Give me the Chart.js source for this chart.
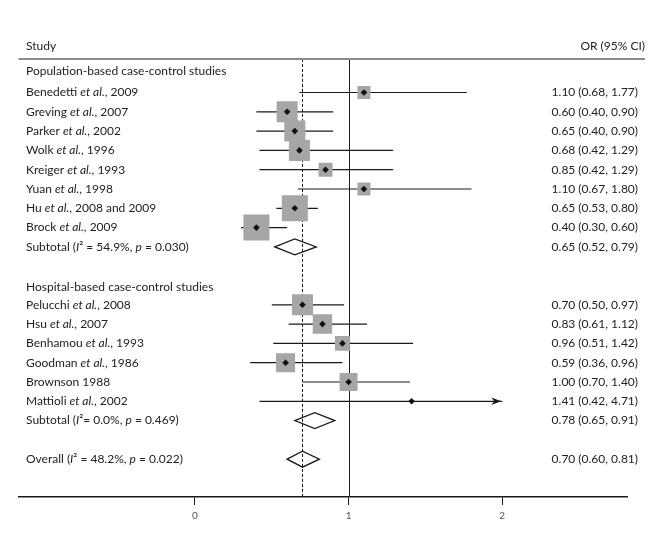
<!DOCTYPE html>
<html>
<head>
<meta charset="utf-8">
<script src="https://cdn.jsdelivr.net/npm/chart.js@4/dist/chart.umd.min.js"></script>
<style>
  html, body { margin: 0; padding: 0; background: #fff; }
  #wrap { width: 648px; height: 557px; position: relative; }
</style>
</head>
<body>
<div id="wrap"><canvas id="forest"></canvas></div>
<script>
// ================= DATA =================
const studyLabels = [
    "Benedetti *et al.*, 2009",
    "Greving *et al.*, 2007",
    "Parker *et al.*, 2002",
    "Wolk *et al.*, 1996",
    "Kreiger *et al.*, 1993",
    "Yuan *et al.*, 1998",
    "Hu *et al.*, 2008 and 2009",
    "Brock *et al.*, 2009",
    "Pelucchi *et al.*, 2008",
    "Hsu *et al.*, 2007",
    "Benhamou *et al.*, 1993",
    "Goodman *et al.*, 1986",
    "Brownson 1988",
    "Mattioli *et al.*, 2002"
];
const studyRows = [1, 2, 3, 4, 5, 6, 7, 8, 12, 13, 14, 15, 16, 17];
const oddsRatios = [1.10, 0.60, 0.65, 0.68, 0.85, 1.10, 0.65, 0.40, 0.70, 0.83, 0.96, 0.59, 1.00, 1.41];
const ciLower = [0.68, 0.40, 0.40, 0.42, 0.42, 0.67, 0.53, 0.30, 0.50, 0.61, 0.51, 0.36, 0.70, 0.42];
const ciUpper = [1.77, 0.90, 0.90, 1.29, 1.29, 1.80, 0.80, 0.60, 0.97, 1.12, 1.42, 0.96, 1.40, 4.71];
// study weights (%)
const studyWeights = [3.4, 8.9, 8.9, 8.9, 3.9, 3.4, 13.6, 13.6, 8.9, 7.6, 4.5, 7.3, 6.5, 0.2];

const summaryLabels = [
    "Subtotal (*I*² = 54.9%, *p* = 0.030)",
    "Subtotal (*I*²= 0.0%, *p* = 0.469)",
    "Overall (*I*² = 48.2%, *p* = 0.022)"
];
const summaryRows = [9, 18, 20];
const summaryOR = [0.65, 0.78, 0.70];
const summaryLower = [0.52, 0.65, 0.60];
const summaryUpper = [0.79, 0.91, 0.81];

const groupLabels = ["Population-based case-control studies", "Hospital-based case-control studies"];
const groupRows = [-0.1, 11.1];

const tickValues = [0, 1, 2];
const axisClip = 2;      // CIs running past this end in an arrow
const headerRow = -1.41;
const ruleRow = -0.74;

// ================= HELPERS =================
const FONT = "Lato, 'Open Sans', sans-serif";
const TEXT_COLOR = "#222";

function fmt(v) { return v.toFixed(2); }
function ciText(or, lo, hi) { return `${fmt(or)} (${fmt(lo)}, ${fmt(hi)})`; }

// text with *italic* parts
function drawRich(ctx, str, x, y, align, size) {
    const parts = str.split("*");
    const fonts = parts.map((p, i) => `${i % 2 ? "italic " : ""}${size}px ${FONT}`);
    const widths = parts.map((p, i) => { ctx.font = fonts[i]; return ctx.measureText(p).width; });
    const total = widths.reduce((a, b) => a + b, 0);
    let cx = align === "right" ? x - total : x;
    ctx.textAlign = "left";
    ctx.textBaseline = "middle";
    parts.forEach((p, i) => {
        ctx.font = fonts[i];
        ctx.fillText(p, cx, y);
        cx += widths[i];
    });
}

// ================= DATASETS =================
const ciPoints = [];
studyRows.forEach((r, i) => {
    ciPoints.push({ x: ciLower[i], y: r });
    ciPoints.push({ x: Math.min(ciUpper[i], axisClip), y: r });
    ciPoints.push({ x: ciLower[i], y: null });
});

const boxPoints = studyRows.map((r, i) => ({ x: oddsRatios[i], y: r }));
const boxRadius = studyWeights.map(w => 7.05 * Math.sqrt(w) / Math.SQRT2);

// ================= PLUGIN =================
const forestDecor = {
    id: "forestDecor",
    beforeDatasetsDraw(chart) {
        const { ctx, chartArea, scales: { x, y } } = chart;
        const top = y.getPixelForValue(ruleRow);
        ctx.save();
        // line of no effect
        ctx.strokeStyle = "#1a1a1a";
        ctx.lineWidth = 1;
        const x1 = Math.round(x.getPixelForValue(1)) + 0.5;
        ctx.beginPath();
        ctx.moveTo(x1, top);
        ctx.lineTo(x1, chartArea.bottom);
        ctx.stroke();
        // overall estimate
        const xo = Math.round(x.getPixelForValue(summaryOR[2])) + 0.5;
        ctx.setLineDash([3, 2]);
        ctx.beginPath();
        ctx.moveTo(xo, top);
        ctx.lineTo(xo, chartArea.bottom);
        ctx.stroke();
        ctx.restore();
    },
    afterDatasetsDraw(chart) {
        const { ctx, chartArea, scales: { x, y } } = chart;
        ctx.save();

        // summary diamonds
        ctx.strokeStyle = "#1a1a1a";
        ctx.lineWidth = 1.3;
        summaryRows.forEach((r, i) => {
            const py = y.getPixelForValue(r);
            ctx.beginPath();
            ctx.moveTo(x.getPixelForValue(summaryLower[i]), py);
            ctx.lineTo(x.getPixelForValue(summaryOR[i]), py - 8);
            ctx.lineTo(x.getPixelForValue(summaryUpper[i]), py);
            ctx.lineTo(x.getPixelForValue(summaryOR[i]), py + 8);
            ctx.closePath();
            ctx.stroke();
        });

        // arrows for clipped CIs
        ctx.fillStyle = "#1a1a1a";
        studyRows.forEach((r, i) => {
            if (ciUpper[i] <= axisClip) return;
            const tip = x.getPixelForValue(axisClip) - 1;
            const py = y.getPixelForValue(r);
            ctx.beginPath();
            ctx.moveTo(tip, py);
            ctx.lineTo(tip - 10, py - 3.8);
            ctx.lineTo(tip - 7, py);
            ctx.lineTo(tip - 10, py + 3.8);
            ctx.closePath();
            ctx.fill();
        });

        // header rule
        const ry = y.getPixelForValue(ruleRow);
        ctx.strokeStyle = "#8c8c8c";
        ctx.lineWidth = 2;
        ctx.beginPath();
        ctx.moveTo(chartArea.left, ry);
        ctx.lineTo(chart.width - 3, ry);
        ctx.stroke();

        // text
        ctx.fillStyle = TEXT_COLOR;
        const leftX = 26, rightX = 638;
        const hy = y.getPixelForValue(headerRow);
        drawRich(ctx, "Study", leftX, hy, "left", 12);
        drawRich(ctx, "OR (95% CI)", chart.width - 3, hy, "right", 12);
        groupRows.forEach((r, i) => drawRich(ctx, groupLabels[i], leftX, y.getPixelForValue(r), "left", 12));
        studyRows.forEach((r, i) => {
            const py = y.getPixelForValue(r);
            drawRich(ctx, studyLabels[i], leftX, py, "left", 12);
            drawRich(ctx, ciText(oddsRatios[i], ciLower[i], ciUpper[i]), rightX, py, "right", 12);
        });
        summaryRows.forEach((r, i) => {
            const py = y.getPixelForValue(r);
            drawRich(ctx, summaryLabels[i], leftX, py, "left", 12);
            drawRich(ctx, ciText(summaryOR[i], summaryLower[i], summaryUpper[i]), rightX, py, "right", 12);
        });
        ctx.restore();
    }
};

// ================= CHART =================
new Chart(document.getElementById("forest"), {
    type: "scatter",
    data: {
        datasets: [
            {
                type: "line",
                data: ciPoints,
                borderColor: "#1a1a1a",
                borderWidth: 1.2,
                pointRadius: 0,
                spanGaps: false,
                order: 3
            },
            {
                data: boxPoints,
                pointStyle: "rect",
                pointRadius: boxRadius,
                backgroundColor: "#a6a6a6",
                borderWidth: 0,
                order: 2
            },
            {
                data: boxPoints,
                pointStyle: "rectRot",
                pointRadius: 3.3,
                backgroundColor: "#111",
                borderWidth: 0,
                order: 1
            }
        ]
    },
    options: {
        responsive: true,
        maintainAspectRatio: false,
        animation: false,
        layout: { padding: { top: 30, left: 17, right: 21, bottom: 30 } },
        plugins: { legend: { display: false }, tooltip: { enabled: false } },
        scales: {
            x: {
                type: "linear",
                min: -1.149,
                max: 2.812,
                afterBuildTicks: axis => { axis.ticks = tickValues.map(v => ({ value: v })); },
                grid: { drawOnChartArea: false, drawTicks: true, tickLength: 8, color: "#1a1a1a" },
                border: { display: true, color: "#1a1a1a", width: 1.5 },
                ticks: { font: { family: FONT, size: 10 }, color: "#555", padding: 5 }
            },
            y: {
                type: "linear",
                display: false,
                reverse: true,
                min: -2.238,
                max: 21.96
            }
        }
    },
    plugins: [forestDecor]
});
</script>
</body>
</html>
